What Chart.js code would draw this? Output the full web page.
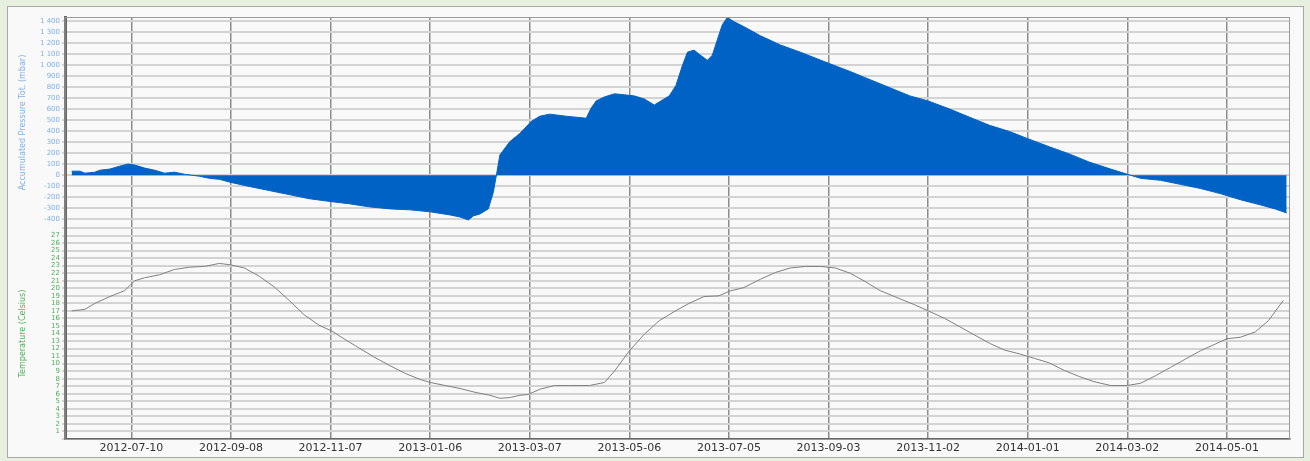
<!DOCTYPE html>
<html>
<head>
<meta charset="utf-8">
<script src="https://cdn.jsdelivr.net/npm/chart.js@4/dist/chart.umd.min.js"></script>
<style>
  body { margin: 0; background: #e7efde; }
  #wrap { position: absolute; left: 7px; top: 6px; width: 1295px; height: 450px;
          border: 1px solid #a8a8a8; background: #f9f9f9; }
</style>
</head>
<body>
<div id="wrap"><canvas id="myChart" width="1295" height="450"></canvas></div>
<script>
// days counted from 2012-07-10
const xTickDays = [0, 60, 120, 180, 240, 300, 360, 420, 480, 540, 600, 660];
const xTickLabels = ['2012-07-10', '2012-09-08', '2012-11-07', '2013-01-06', '2013-03-07', '2013-05-06',
                     '2013-07-05', '2013-09-03', '2013-11-02', '2014-01-01', '2014-03-02', '2014-05-01'];

// accumulated pressure (mbar)
const pressureDays = [-36, -31, -28, -22, -19, -13, -7, -2, 2, 8, 14, 20, 26, 32, 41, 47, 53, 60, 71, 83,
  95, 107, 121, 131, 143, 156, 168, 180, 192, 198, 203, 206, 210, 215, 218, 220, 222, 228, 234, 241,
  246, 252, 262, 274, 277, 280, 285, 291, 297, 303, 309, 315, 319, 324, 328, 332, 335, 339, 342, 347,
  350, 353, 356, 359, 363, 369, 379, 391, 403, 420, 433, 445, 457, 469, 480, 493, 505, 517, 529, 540,
  553, 565, 577, 590, 600, 608, 620, 632, 644, 656, 668, 680, 689, 696];
const pressureVals = [37, 37, 19, 28, 46, 56, 83, 102, 93, 65, 46, 19, 28, 9, -9, -28, -37, -65, -102, -139,
  -176, -213, -241, -259, -287, -306, -315, -333, -361, -380, -407, -370, -352, -306, -157, 9, 185, 306, 380, 491,
  537, 556, 537, 519, 611, 676, 713, 741, 732, 722, 694, 639, 676, 722, 815, 1000, 1120, 1139, 1102, 1046,
  1093, 1232, 1370, 1435, 1398, 1352, 1269, 1185, 1120, 1019, 944, 870, 796, 722, 676, 602, 528, 454, 398, 333,
  259, 194, 120, 56, 9, -28, -46, -83, -120, -167, -222, -269, -306, -343];

// temperature (Celsius)
const tempDays = [-36, -28, -22, -13, -4, 2, 8, 17, 26, 35, 44, 53, 60, 68, 77, 86, 95, 104, 113, 121,
  128, 137, 146, 156, 165, 174, 180, 189, 198, 207, 216, 222, 228, 234, 239, 246, 255, 264, 276, 285,
  291, 300, 309, 318, 327, 336, 345, 354, 360, 369, 379, 388, 397, 406, 415, 424, 433, 442, 451, 463,
  472, 480, 490, 499, 508, 517, 526, 535, 544, 553, 562, 571, 580, 590, 600, 608, 617, 626, 635, 644,
  653, 660, 668, 677, 685, 694];
const tempVals = [17.0, 17.2, 18.0, 18.9, 19.7, 21.0, 21.4, 21.8, 22.5, 22.8, 22.9, 23.3, 23.1, 22.7, 21.6, 20.2, 18.4, 16.5, 15.1, 14.3,
  13.3, 12.1, 10.9, 9.7, 8.7, 7.9, 7.5, 7.1, 6.7, 6.2, 5.8, 5.4, 5.5, 5.8, 5.9, 6.6, 7.1, 7.1, 7.1, 7.5,
  9.0, 11.7, 13.9, 15.7, 16.9, 18.0, 18.9, 19.0, 19.6, 20.1, 21.2, 22.1, 22.7, 22.9, 22.9, 22.7, 22.0, 20.9, 19.7, 18.6,
  17.8, 17.0, 16.0, 14.9, 13.8, 12.7, 11.8, 11.3, 10.7, 10.1, 9.1, 8.3, 7.6, 7.1, 7.1, 7.4, 8.4, 9.5, 10.6, 11.7,
  12.6, 13.3, 13.5, 14.2, 15.7, 18.4];

const framePlugin = {
    id: 'frame',
    afterDraw(chart) {
        const a = chart.chartArea, c = chart.ctx;
        c.save();
        c.strokeStyle = '#9a9a9a';
        c.lineWidth = 1;
        c.strokeRect(a.left, a.top + 0.5, a.right - a.left - 0.5, a.bottom - a.top);
        c.restore();
    }
};

const ctx = document.getElementById('myChart');
const myChart = new Chart(ctx, {
    type: 'line',
    data: {
        datasets: [{
            label: 'Accumulated Pressure',
            data: pressureDays.map((d, i) => ({ x: d, y: pressureVals[i] })),
            yAxisID: 'y',
            fill: 'origin',
            backgroundColor: '#0062c4',
            borderColor: '#0062c4',
            borderWidth: 1,
            pointRadius: 0,
            tension: 0
        }, {
            label: 'Temperature',
            data: tempDays.map((d, i) => ({ x: d, y: tempVals[i] })),
            yAxisID: 'y2',
            fill: false,
            borderColor: '#808080',
            borderWidth: 1,
            pointRadius: 0,
            tension: 0
        }]
    },
    options: {
        responsive: false,
        animation: false,
        layout: { padding: { left: 4, right: 13, top: 10, bottom: 0 } },
        plugins: { legend: { display: false }, tooltip: { enabled: false } },
        scales: {
            x: {
                type: 'linear',
                min: -40,
                max: 698,
                afterBuildTicks: s => { s.ticks = xTickDays.map(v => ({ value: v })); },
                afterFit: s => { s.height = 18; },
                ticks: {
                    callback: (v, i) => xTickLabels[i],
                    color: '#333',
                    font: { family: 'DejaVu Sans', size: 11 },
                    maxRotation: 0,
                    autoSkip: false,
                    padding: 3
                },
                grid: { color: '#8c8c8c', lineWidth: 1.5, drawTicks: false },
                border: { color: '#666', width: 2 }
            },
            // bottom panel first: left stacks are laid out in reverse order
            y2: {
                position: 'left',
                stack: 'panels',
                stackWeight: 1,
                min: 0,
                max: 28,
                afterFit: s => { s.width = 53; },
                ticks: {
                    stepSize: 1,
                    includeBounds: false,
                    autoSkip: false,
                    callback: v => (v === 0 || v === 28) ? '' : String(v),
                    color: '#4fb05a',
                    font: { family: 'DejaVu Sans', size: 7 },
                    padding: 2
                },
                grid: { color: '#d3d3d3', lineWidth: 2, tickLength: 3 },
                border: { color: '#666', width: 3 },
                title: {
                    display: true,
                    text: 'Temperature (Celsius)',
                    color: '#4fb05a',
                    font: { family: 'DejaVu Sans', size: 8 },
                    padding: { top: 6, bottom: 0 }
                }
            },
            y: {
                position: 'left',
                stack: 'panels',
                stackWeight: 1,
                min: -480,
                max: 1440,
                afterFit: s => { s.width = 53; },
                ticks: {
                    stepSize: 100,
                    includeBounds: false,
                    autoSkip: false,
                    callback: v => String(v).replace(/(\d)(\d{3})$/, '$1 $2'),
                    color: '#7fb0e6',
                    font: { family: 'DejaVu Sans', size: 7 },
                    padding: 2
                },
                grid: { color: '#d3d3d3', lineWidth: 2, tickLength: 3 },
                border: { color: '#666', width: 3 },
                title: {
                    display: true,
                    text: 'Accumulated Pressure Tot. (mbar)',
                    color: '#7fb0e6',
                    font: { family: 'DejaVu Sans', size: 8 },
                    padding: { top: 6, bottom: 0 }
                }
            }
        }
    },
    plugins: [framePlugin]
});
</script>
</body>
</html>
